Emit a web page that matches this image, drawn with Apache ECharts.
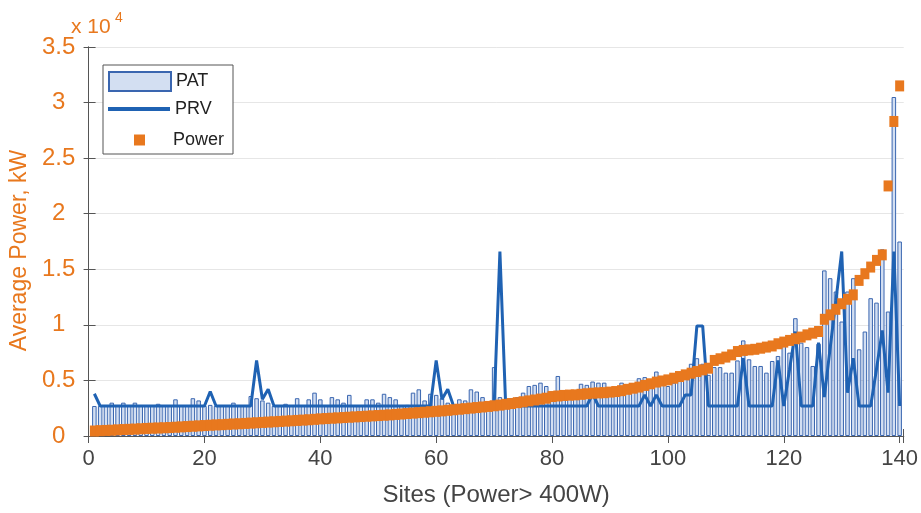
<!DOCTYPE html>
<html><head><meta charset="utf-8">
<script src="https://cdn.jsdelivr.net/npm/echarts@6/dist/echarts.min.js"></script>
<style>html,body{margin:0;padding:0;background:#fff}#c{width:921px;height:513px}</style>
</head><body><div id="c"></div>
<script>
// PAT (bars), sites 1..140
const patValues = [
 2700,2700,2700,3000,2700,3000,2700,3000,2700,2700,
 2700,2900,2700,2700,3300,2700,2700,3400,3200,2700,
 2800,2700,2700,2700,3000,2700,2700,3600,3400,3200,
 3000,2700,2700,2900,2700,3400,2700,3300,3900,3300,
 2700,3500,3300,3000,3700,2700,2700,3300,3300,3000,
 3800,3500,3300,2700,2800,3900,4200,3200,3800,3700,
 3400,3000,2700,3300,3200,4200,4000,3500,2800,6200,
 3500,3000,3400,3500,3900,4500,4600,4800,4500,4000,
 5400,3500,3600,3800,4700,4600,4900,4800,4800,4300,
 4000,4800,4200,4500,5200,5300,4700,5800,4600,4500,
 4800,5000,5200,6500,7000,6500,5500,6200,6200,5700,
 5700,6800,8600,6900,6300,6300,5700,6750,7200,8100,
 7500,10600,8400,8000,6300,8300,14900,14200,13000,10300,
 13000,14200,7800,9400,12400,12000,16800,11200,30500,17500
];
// PRV (line), sites 1..140
const prvValues = [
 3800,2700,2700,2700,2700,2700,2700,2700,2700,2700,
 2700,2700,2700,2700,2700,2700,2700,2700,2700,2700,
 4000,2700,2700,2700,2700,2700,2700,2700,6800,3300,
 4200,2700,2700,2700,2700,2700,2700,2700,2700,2700,
 2700,2700,2700,2700,2700,2700,2700,2700,2700,2700,
 2700,2700,2700,2700,2700,2700,2700,2700,2700,6800,
 3300,4200,2700,2700,2700,2700,2700,2700,2700,2700,
 16600,2700,2700,2700,2700,2700,2700,2700,2700,2700,
 2700,2700,2700,2700,2700,2700,3800,2700,2700,2700,
 2700,2700,2700,2700,2700,3700,2700,3700,2700,2700,
 2700,2700,3700,3700,9900,9900,2700,2700,2700,2700,
 2700,2700,7000,2700,2700,2700,2700,2700,6800,2700,
 6000,9400,2700,2700,2700,8400,3500,7900,12200,16600,
 3900,7000,2700,2700,2700,6000,9500,3900,16600,2700
];
// Power (squares), sites 1..140
const powerValues = [
 450,480,500,520,550,580,600,620,650,680,
 700,720,740,760,790,820,850,880,910,940,
 970,1000,1020,1050,1080,1100,1130,1160,1190,1220,
 1250,1280,1310,1340,1370,1400,1430,1460,1500,1540,
 1570,1600,1630,1660,1690,1720,1750,1780,1810,1840,
 1870,1900,1940,1980,2020,2060,2100,2140,2180,2220,
 2260,2310,2360,2410,2460,2510,2560,2610,2660,2720,
 2780,2850,2920,3000,3080,3160,3240,3320,3400,3550,
 3600,3650,3680,3700,3750,3800,3850,3880,3900,3950,
 4000,4080,4200,4300,4400,4550,4700,4850,4950,5050,
 5200,5350,5500,5650,5800,5950,6100,6800,6950,7100,
 7300,7600,7700,7750,7800,7900,8000,8100,8300,8450,
 8600,8750,8900,9100,9250,9400,10500,10900,11400,11900,
 12300,12700,14000,14600,15200,15800,16300,22500,28300,31500
];
const xTickLabels = [0,20,40,60,80,100,120,140];
const yTickLabels = ['0','0.5','1','1.5','2','2.5','3','3.5'];

const orange = '#E8781E';
const blue = '#1F62B3';
const font = 'Liberation Sans, Arial, sans-serif';
const pair = arr => arr.map((v, i) => [i + 1, v]);

const chart = echarts.init(document.getElementById('c'), null, {renderer: 'canvas'});
chart.setOption({
  animation: false,
  backgroundColor: '#fff',
  textStyle: {fontFamily: font},
  grid: {left: 88, right: 15, top: 47, bottom: 77},
  xAxis: [{
    type: 'value', min: 0, max: 140.7, interval: 20,
    axisLine: {show: true, lineStyle: {color: '#555', width: 1}},
    axisTick: {show: true, inside: true, length: 7, lineStyle: {color: '#555'}},
    axisLabel: {color: '#444', fontSize: 22, margin: 12, fontFamily: font,
      formatter: v => (xTickLabels.indexOf(Math.round(v)) >= 0 && Math.abs(v - Math.round(v)) < 1e-6) ? String(Math.round(v)) : ''},
    splitLine: {show: false},
    name: 'Sites (Power> 400W)', nameLocation: 'middle', nameGap: 47,
    nameTextStyle: {color: '#444', fontSize: 24, fontFamily: font}
  }, {
    type: 'value', position: 'top', min: 0, max: 140.7, interval: 20,
    axisLine: {show: true, lineStyle: {color: '#555', width: 1}},
    axisTick: {show: true, inside: true, length: 7, lineStyle: {color: '#555'}},
    axisLabel: {show: false}, splitLine: {show: false}
  }],
  yAxis: [{
    type: 'value', min: 0, max: 35000, interval: 5000,
    axisLine: {show: true, lineStyle: {color: '#555', width: 1}},
    axisTick: {show: true, inside: true, length: 7, lineStyle: {color: '#555'}},
    axisLabel: {color: orange, fontSize: 24, margin: 30, align: 'center', fontFamily: font,
      formatter: v => yTickLabels[Math.round(v / 5000)]},
    splitLine: {show: true, lineStyle: {color: '#e6e6e6', width: 1}},
    name: 'Average Power, kW', nameLocation: 'middle', nameGap: 56,
    nameTextStyle: {color: orange, fontSize: 23, fontFamily: font, padding: [0, 18, 0, 0]}
  }, {
    type: 'value', position: 'right', min: 0, max: 35000, interval: 5000,
    axisLine: {show: true, lineStyle: {color: '#555', width: 1}},
    axisTick: {show: true, inside: true, length: 5, lineStyle: {color: '#555'}},
    axisLabel: {show: false}, splitLine: {show: false}
  }],
  legend: [{
    data: [{name: 'PAT', icon: 'rect'}], left: 108, top: 71, padding: 0, itemWidth: 62, itemHeight: 19, z: 10,
    textStyle: {color: '#222', fontSize: 18, fontFamily: font}
  }, {
    data: [{name: 'PRV', icon: 'rect'}], left: 108, top: 100, padding: 0, itemWidth: 62, itemHeight: 4, z: 10,
    textStyle: {color: '#222', fontSize: 18, fontFamily: font}
  }, {
    data: [{name: 'Power', icon: 'rect'}], left: 134, top: 131, padding: 0, itemWidth: 11, itemHeight: 11, z: 10,
    textStyle: {color: '#222', fontSize: 18, fontFamily: font, padding: [0, 0, 0, 23]}
  }],
  graphic: [
    {type: 'rect', z: 8, shape: {x: 103, y: 65, width: 130, height: 89},
     style: {fill: '#fff', stroke: '#555', lineWidth: 1}},
    {type: 'text', z: 8, left: 71, top: 17, style: {text: 'x 10', fill: orange, font: '21px ' + font}},
    {type: 'text', z: 8, left: 115, top: 11, style: {text: '4', fill: orange, font: '14px ' + font}}
  ],
  series: [{
    name: 'PAT', type: 'bar', data: pair(patValues), barWidth: 4.5,
    itemStyle: {color: '#d3dff2', borderColor: '#3a66b0', borderWidth: 1, opacity: 1},
    z: 2
  }, {
    name: 'PRV', type: 'line', data: pair(prvValues), symbol: 'none',
    lineStyle: {color: blue, width: 3}, itemStyle: {color: blue}, z: 3
  }, {
    name: 'Power', type: 'scatter', data: pair(powerValues), symbol: 'rect', symbolSize: [9, 11],
    itemStyle: {color: orange, opacity: 1}, z: 4
  }]
});
</script></body></html>
